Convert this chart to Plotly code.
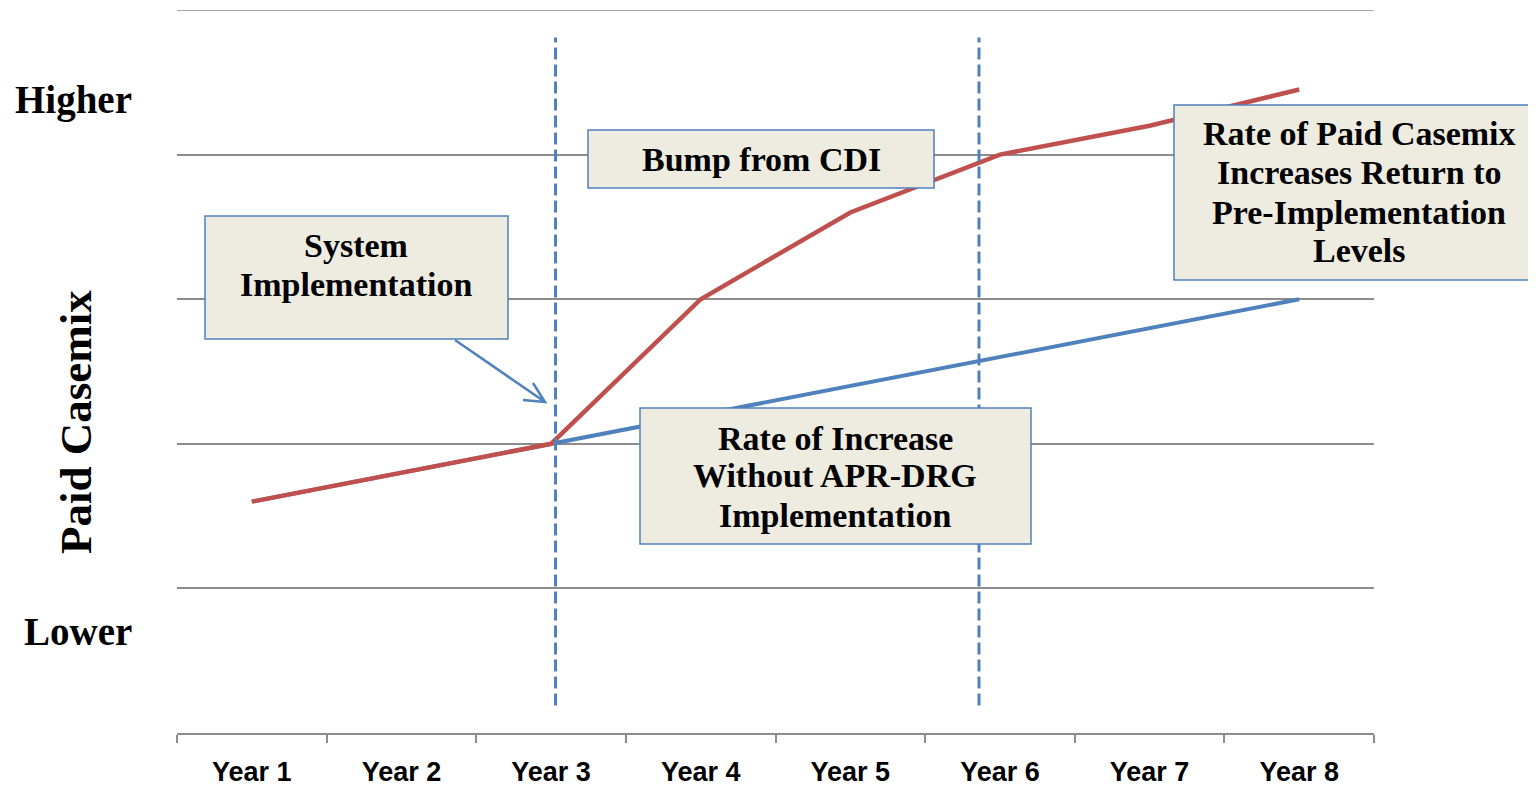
import plotly.graph_objects as go

# ---- data ----
years = ["Year 1", "Year 2", "Year 3", "Year 4", "Year 5", "Year 6", "Year 7", "Year 8"]
with_apr = [1.6, 1.8, 2.0, 3.0, 3.6, 4.0, 4.2, 4.45]
without_apr = [1.6, 1.8, 2.0, 2.2, 2.4, 2.6, 2.8, 3.0]
y_label_text = ["Lower", "Higher"]
y_label_pos = [0.7, 4.38]
grid_vals = [1, 2, 3, 4, 5]
event_x = [2.03, 4.86]          # dashed marker positions (category index)
event_y = [0.19, 4.81]
y_title = "Paid Casemix"

box_lines = [
    ["System", "Implementation"],
    ["Bump from CDI"],
    ["Rate of Paid Casemix", "Increases Return to", "Pre-Implementation", "Levels"],
    ["Rate of Increase", "Without APR-DRG", "Implementation"],
]

# ---- layout helpers (screen pixel -> paper); page has an 8px body offset ----
OFF = 8
L, R, T, B = 177, 1374, 10, 733          # plot area in screen pixels
W, H = 1536 - OFF, 788 - OFF
def px(x):
    return (x - L) / (R - L)
def py(y):
    return (B - y) / (B - T)

BLUE = "#4F81BD"
RED = "#C0504D"
GRID = "#8C8C8C"
SERIF = "Liberation Serif"

fig = go.Figure()
fig.add_trace(go.Scatter(x=years, y=without_apr, mode="lines",
                         line=dict(color=BLUE, width=4), showlegend=False))
fig.add_trace(go.Scatter(x=years, y=with_apr, mode="lines",
                         line=dict(color=RED, width=4.5), showlegend=False))

shapes = []
# top gridline (edge of range)
shapes.append(dict(type="line", xref="paper", yref="y", x0=0, x1=1,
                   y0=grid_vals[-1], y1=grid_vals[-1],
                   line=dict(color=GRID, width=1.5), layer="below"))
for ex in event_x:
    shapes.append(dict(type="line", xref="x", yref="y", x0=ex, x1=ex,
                       y0=event_y[0], y1=event_y[1],
                       line=dict(color=BLUE, width=3, dash="12px,5px"), layer="above"))

boxes_px = [
    (205, 216, 508, 339),
    (588, 130, 934, 188),
    (1174, 105, 1545, 280),
    (640, 408, 1031, 544),
]
line_x = [356, 761, 1359, 835]
line_ys = [[246, 284], [159], [134, 173, 212, 250], [438, 476, 515]]

for (x0, y0, x1, y1) in boxes_px:
    shapes.append(dict(type="rect", xref="paper", yref="paper",
                       x0=px(x0), x1=px(x1), y0=py(y1), y1=py(y0),
                       fillcolor="#EEECE1", line=dict(color=BLUE, width=1.5),
                       layer="above"))

# arrow
def P(x, y):
    return f"{px(x)},{py(y)}"
shapes.append(dict(type="path", xref="paper", yref="paper",
                   path=f"M {P(455,340)} L {P(545,402)} M {P(523,400)} L {P(545,402)} L {P(533,383)}",
                   line=dict(color=BLUE, width=2.5), layer="above"))

annotations = []
for lines, cx, ys in zip(box_lines, line_x, line_ys):
    for txt, cy in zip(lines, ys):
        annotations.append(dict(text=f"<b>{txt}</b>", xref="paper", yref="paper",
                                x=px(cx), y=py(cy), xanchor="center", yanchor="middle",
                                showarrow=False, align="center",
                                font=dict(family=SERIF, size=34, color="black")))

for t, v in zip(y_label_text, y_label_pos):
    annotations.append(dict(text=f"<b>{t}</b>", xref="paper", yref="y",
                            x=px(134), y=v, xanchor="right", yanchor="middle",
                            showarrow=False,
                            font=dict(family=SERIF, size=39, color="black")))

annotations.append(dict(text=f"<b>{y_title}</b>", xref="paper", yref="paper",
                        x=px(76), y=py(422), xanchor="center", yanchor="middle",
                        textangle=-90, showarrow=False,
                        font=dict(family=SERIF, size=45, color="black")))

fig.update_layout(
    width=W, height=H,
    margin=dict(l=L - OFF, r=W - (R - OFF), t=T - OFF, b=H - (B - OFF)),
    paper_bgcolor="white", plot_bgcolor="white",
    shapes=shapes, annotations=annotations,
    xaxis=dict(type="category", range=[-0.5, 7.5], showgrid=False,
               showline=True, linecolor=GRID, linewidth=1.5,
               ticks="outside", tickson="boundaries", ticklen=8, tickcolor=GRID,
               tickwidth=1.5, zeroline=False, automargin=False,
               tickvals=list(range(len(years))),
               ticktext=[f"<b>{y}</b>" for y in years],
               tickfont=dict(family="Liberation Sans", size=27, color="black"),
               ticklabelstandoff=14),
    yaxis=dict(range=[0, 5], tickvals=grid_vals, showticklabels=False,
               showgrid=True, gridcolor=GRID, gridwidth=1.5, zeroline=False,
               showline=False, ticks="", automargin=False),
)

fig.write_html("out.html")
